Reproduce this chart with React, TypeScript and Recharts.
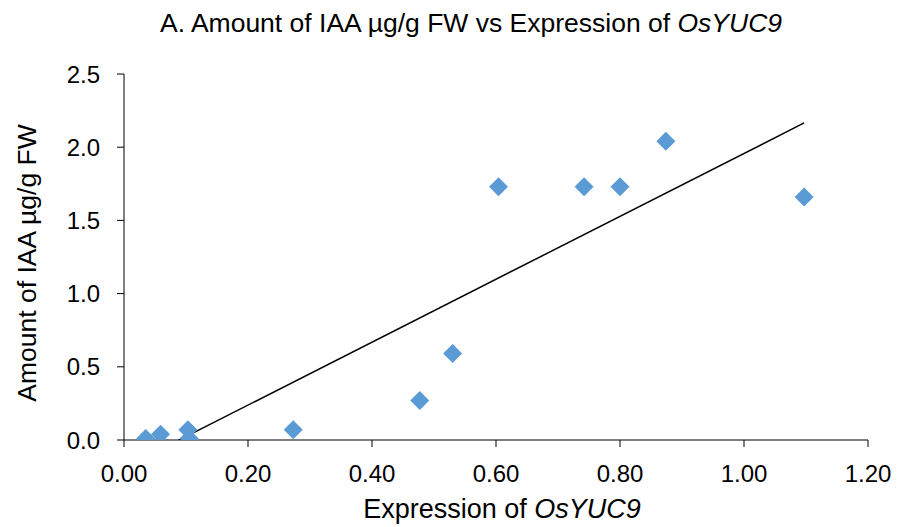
import { ReferenceLine, Scatter, ScatterChart, XAxis, YAxis } from "recharts";

const expression = [0.035, 0.059, 0.103, 0.105, 0.273, 0.477, 0.53, 0.604, 0.742, 0.8, 0.874, 1.097];
const iaa = [0.01, 0.04, 0.07, 0.01, 0.07, 0.27, 0.59, 1.73, 1.73, 1.73, 2.04, 1.66];
const xTicks = [0, 0.2, 0.4, 0.6, 0.8, 1.0, 1.2];
const yTicks = [0, 0.5, 1.0, 1.5, 2.0, 2.5];

const points = expression.map((x, i) => ({ x, y: iaa[i] }));

// linear least-squares trendline, like Excel's
const n = points.length;
const mx = expression.reduce((s, v) => s + v, 0) / n;
const my = iaa.reduce((s, v) => s + v, 0) / n;
let sxy = 0;
let sxx = 0;
points.forEach((p) => {
  sxy += (p.x - mx) * (p.y - my);
  sxx += (p.x - mx) * (p.x - mx);
});
const slope = sxy / sxx;
const intercept = my - slope * mx;
const xMin = Math.min(...expression);
const xMax = Math.max(...expression);
const trend = [
  { x: xMin, y: intercept + slope * xMin },
  { x: xMax, y: intercept + slope * xMax },
];

const FONT = "'Liberation Sans', Arial, sans-serif";
const BLUE = "#5B9BD5";

function Diamond(props: any) {
  const { cx, cy } = props;
  const r = 9.5;
  return (
    <polygon
      points={`${cx},${cy - r} ${cx + r},${cy} ${cx},${cy + r} ${cx - r},${cy}`}
      fill={BLUE}
    />
  );
}

export default function App() {
  return (
    <div style={{ position: "absolute", left: 0, top: 0, width: 915, height: 527, background: "#fff" }}>
      <ScatterChart width={915} height={527} margin={{ top: 74, right: 47, bottom: 0, left: 0 }}>
        <XAxis
          type="number"
          dataKey="x"
          domain={[0, 1.2]}
          ticks={xTicks}
          tickFormatter={(v: number) => v.toFixed(2)}
          height={87}
          stroke="#000"
          tickSize={7}
          tickMargin={18}
          tick={{ fill: "#000", fontSize: 24, fontFamily: FONT }}
        />
        <YAxis
          type="number"
          dataKey="y"
          domain={[0, 2.5]}
          ticks={yTicks}
          allowDataOverflow
          tickFormatter={(v: number) => v.toFixed(1)}
          width={124}
          stroke="#000"
          tickSize={7}
          tickMargin={17}
          tick={{ fill: "#000", fontSize: 24, fontFamily: FONT }}
        />
        <ReferenceLine segment={trend} stroke="#000" strokeWidth={1.5} ifOverflow="hidden" />
        <Scatter data={points} fill={BLUE} shape={Diamond} isAnimationActive={false} />
      </ScatterChart>
      <svg
        width={915}
        height={527}
        style={{ position: "absolute", left: 0, top: 0, pointerEvents: "none" }}
        fontFamily={FONT}
      >
        <text x={471} y={32} textAnchor="middle" fontSize={26.5} fill="#000">
          A. Amount of IAA µg/g FW vs Expression of <tspan fontStyle="italic">OsYUC9</tspan>
        </text>
        <text x={502} y={518} textAnchor="middle" fontSize={27} fill="#000">
          Expression of <tspan fontStyle="italic">OsYUC9</tspan>
        </text>
        <text
          x={36}
          y={263}
          textAnchor="middle"
          fontSize={26.5}
          fill="#000"
          transform="rotate(-90 36 263)"
        >
          Amount of IAA µg/g FW
        </text>
      </svg>
    </div>
  );
}
